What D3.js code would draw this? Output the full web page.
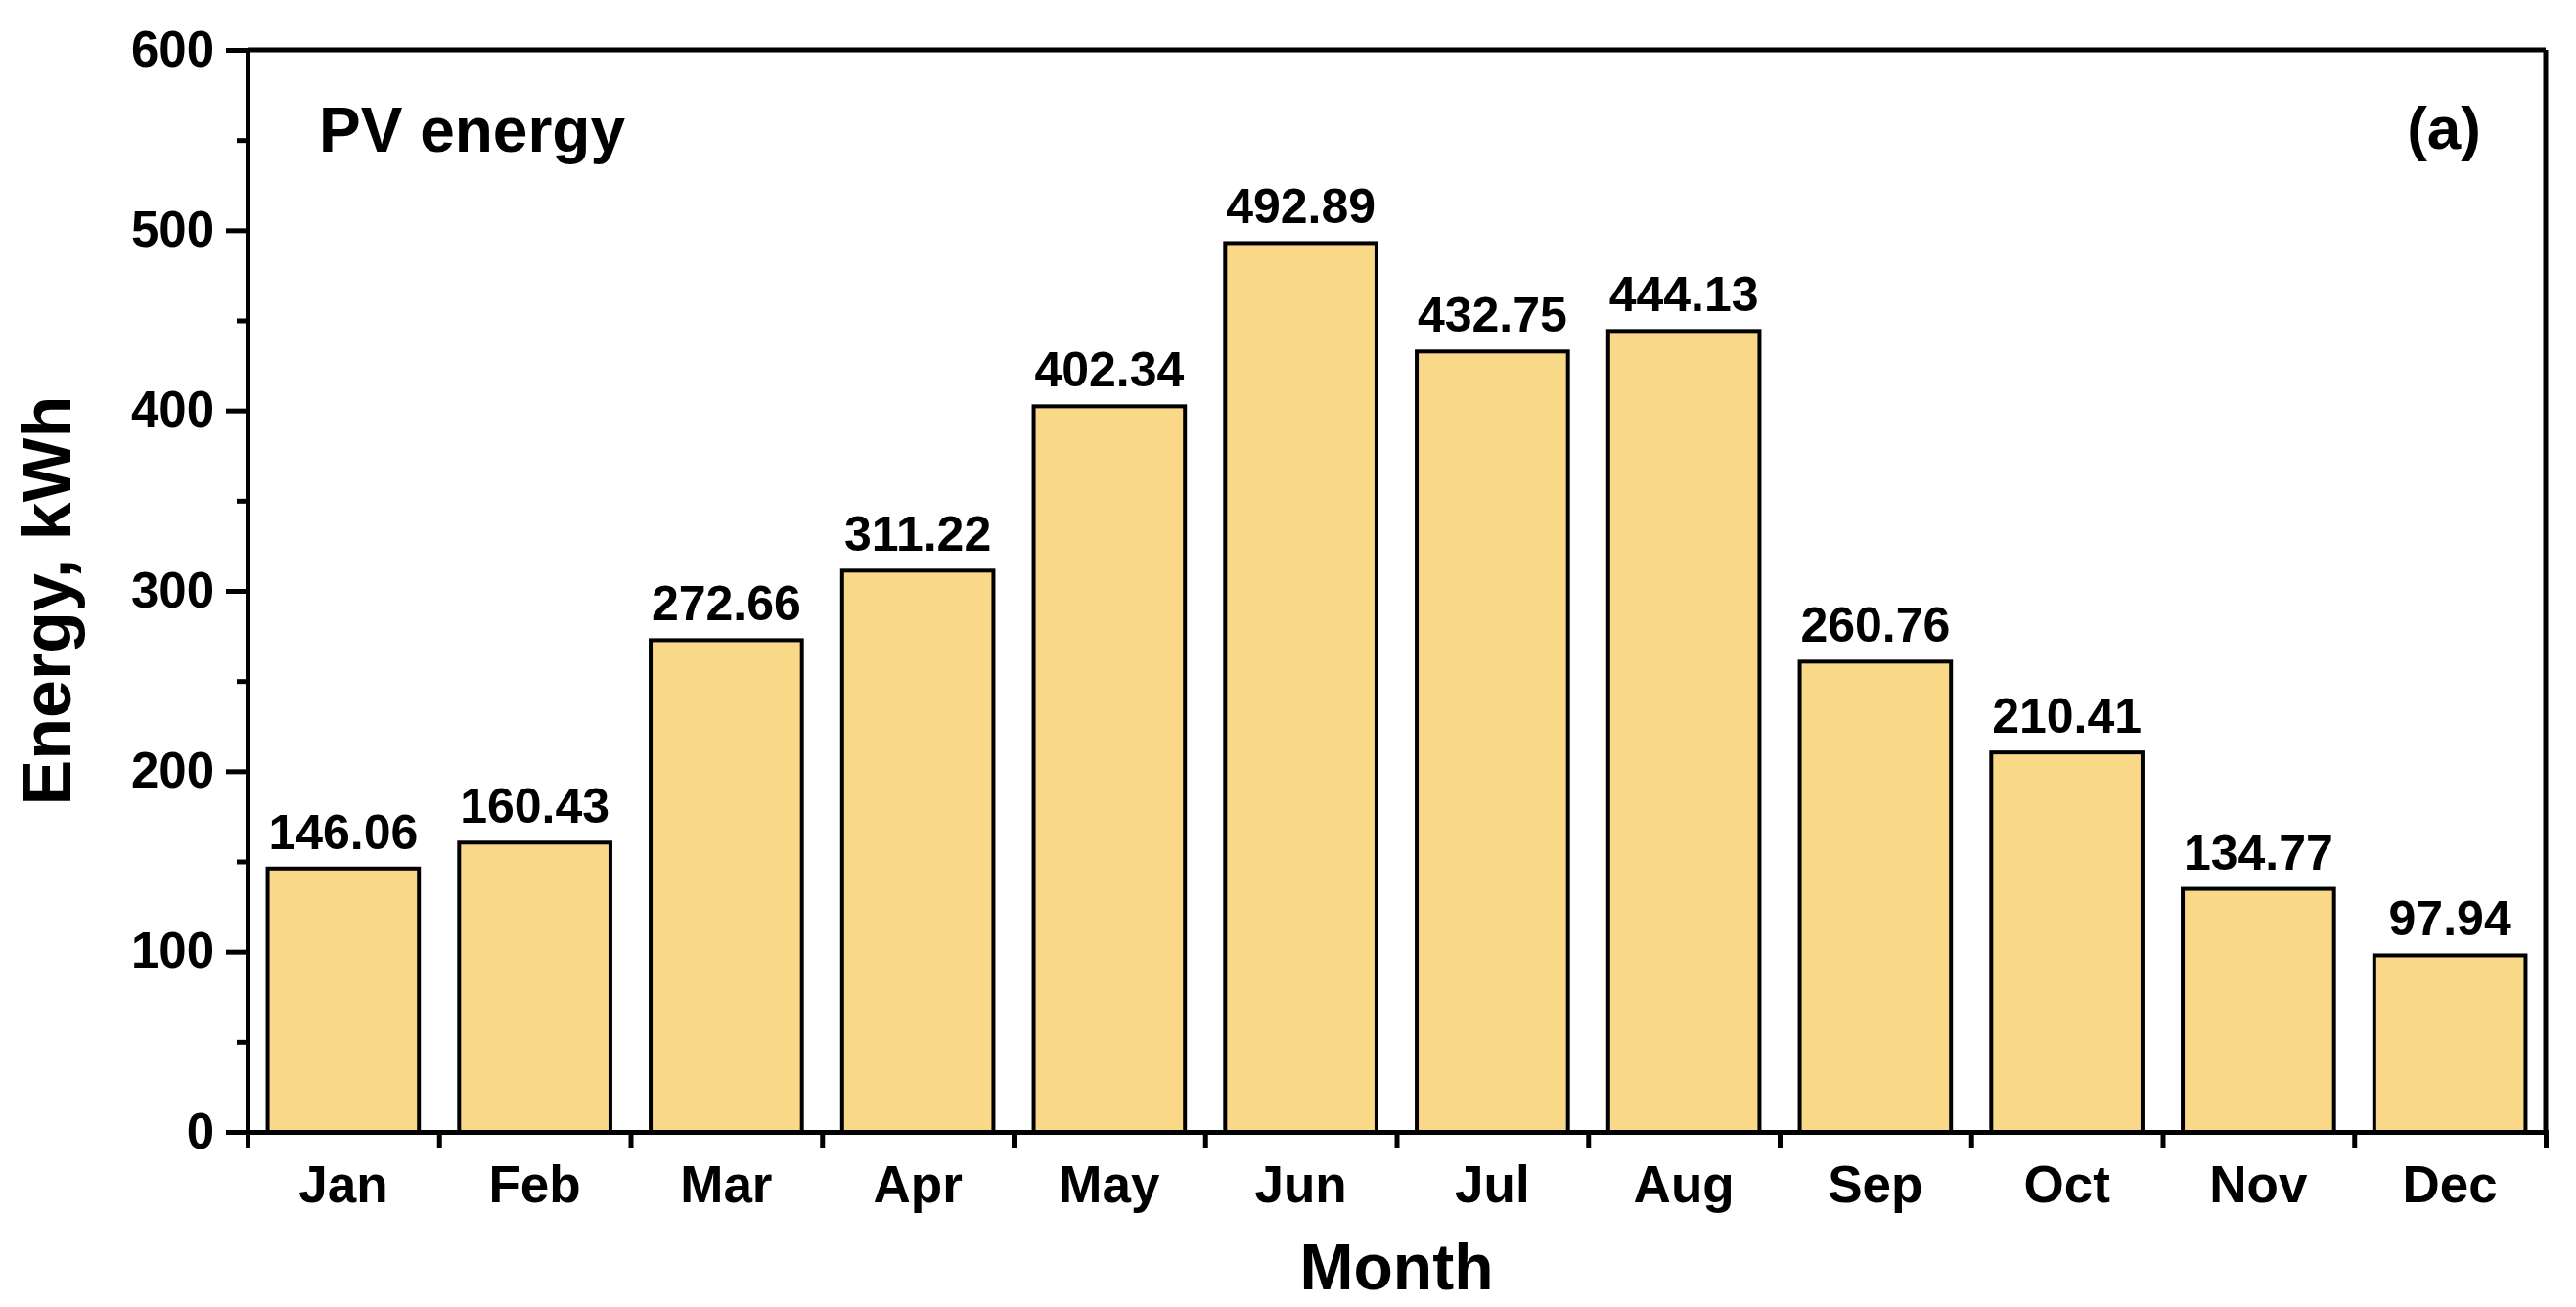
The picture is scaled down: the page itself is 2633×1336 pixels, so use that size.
<!DOCTYPE html>
<html><head><meta charset="utf-8">
<script src="https://cdn.jsdelivr.net/npm/d3@7"></script>
<style>body{margin:0;background:#fff}text{font-family:"Liberation Sans",Arial,sans-serif;font-weight:bold}</style>
</head><body><svg id="chart" width="2633" height="1336"></svg>
<script>
const months = ["Jan","Feb","Mar","Apr","May","Jun","Jul","Aug","Sep","Oct","Nov","Dec"];
const energy = [146.06,160.43,272.66,311.22,402.34,492.89,432.75,444.13,260.76,210.41,134.77,97.94];
const yTicks = [0,100,200,300,400,500,600];

const margin = {top: 51, right: 31, bottom: 179, left: 253};
const W = 2633, H = 1336;
const width = W - margin.left - margin.right;
const height = H - margin.top - margin.bottom;

const svg = d3.select("#chart");
const g = svg.append("g").attr("transform", `translate(${margin.left},${margin.top})`);

const x = d3.scaleBand().domain(months).range([0, width]).paddingInner(0.21).paddingOuter(0.105);
const y = d3.scaleLinear().domain([0, 600]).range([height, 0]);

// bars
g.selectAll("rect.bar").data(energy).enter().append("rect")
  .attr("x", (d, i) => x(months[i]))
  .attr("y", d => y(d))
  .attr("width", x.bandwidth())
  .attr("height", d => height - y(d))
  .attr("fill", "#F9D888").attr("stroke", "#000").attr("stroke-width", 4);

// value labels
g.selectAll("text.val").data(energy).enter().append("text")
  .attr("x", (d, i) => x(months[i]) + x.bandwidth() / 2)
  .attr("y", d => y(d) - 20)
  .attr("text-anchor", "middle").attr("font-size", 50)
  .text(d => d.toFixed(2));

// y axis
const yAxis = g.append("g").call(d3.axisLeft(y).tickValues(yTicks).tickSize(22).tickPadding(12));
yAxis.selectAll("text").attr("font-size", 51).style("font-family", "Liberation Sans").style("font-weight", "bold");
g.append("g").call(d3.axisLeft(y).tickValues(d3.range(50, 600, 100)).tickSize(11).tickFormat(""))
  .select(".domain").remove();

// x axis: ticks at category boundaries
const xb = d3.scaleLinear().domain([0, 12]).range([0, width]);
g.append("g").attr("transform", `translate(0,${height})`)
  .call(d3.axisBottom(xb).ticks(12).tickSize(16).tickFormat(""));
g.append("g").selectAll("text.mon").data(months).enter().append("text")
  .attr("x", d => x(d) + x.bandwidth() / 2).attr("y", height + 72)
  .attr("text-anchor", "middle").attr("font-size", 53).text(d => d);

g.selectAll(".domain").attr("stroke-width", 5);
g.selectAll(".tick line").attr("stroke-width", 5);

// frame
g.append("line").attr("x1", 0).attr("x2", width).attr("y1", 0).attr("y2", 0).attr("stroke", "#000").attr("stroke-width", 5);
g.append("line").attr("x1", width).attr("x2", width).attr("y1", 0).attr("y2", height).attr("stroke", "#000").attr("stroke-width", 5);

// titles
svg.append("text").attr("x", margin.left + width / 2).attr("y", 1318).attr("text-anchor", "middle")
  .attr("font-size", 66).text("Month");
svg.append("text").attr("transform", `translate(72,${margin.top + height / 2 + 10}) rotate(-90)`)
  .attr("text-anchor", "middle").attr("font-size", 70).text("Energy, kWh");
svg.append("text").attr("x", 326).attr("y", 155).attr("font-size", 64).text("PV energy");
svg.append("text").attr("x", 2536).attr("y", 152).attr("text-anchor", "end").attr("font-size", 62).text("(a)");
</script></body></html>
